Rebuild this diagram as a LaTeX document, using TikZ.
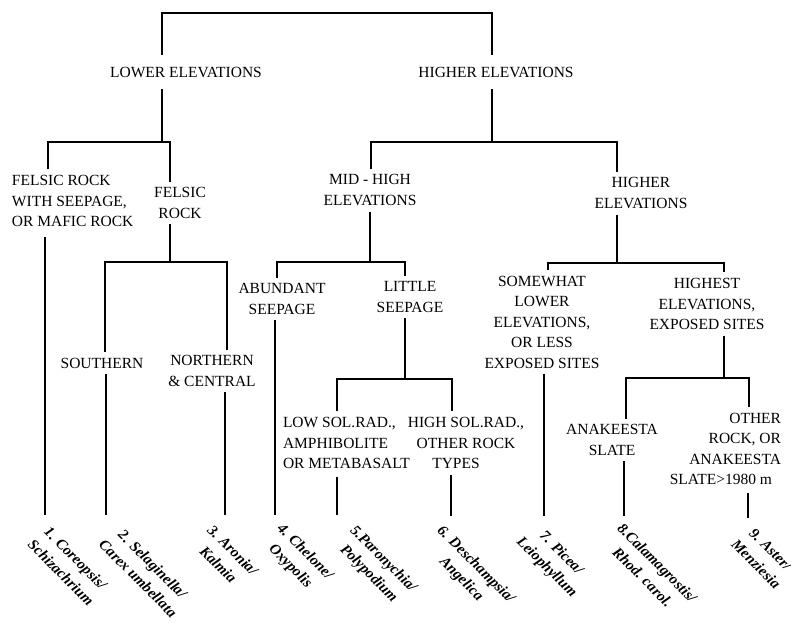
\documentclass[tikz,border=0pt]{standalone}
\usepackage{fontspec}
\setmainfont{Liberation Serif}
\begin{document}
\begin{tikzpicture}[x=1pt,y=-1pt,line width=1.1pt,
  lab/.style={font=\fontsize{15.5}{20.5}\selectfont,inner sep=0pt,outer sep=6pt,align=center},
  sp/.style={font=\fontsize{15}{20.5}\selectfont\bfseries\itshape,rotate=-45,inner sep=0pt,align=center,anchor=north west}]
\useasboundingbox (0,0) rectangle (791,622);
% text nodes
\node[lab] (lower) at (186,72) {LOWER ELEVATIONS};
\node[lab] (higher) at (496,72) {HIGHER ELEVATIONS};
\node[lab,align=left,anchor=west,outer sep=0pt] (felsicseepin) at (12,201) {FELSIC ROCK\\WITH SEEPAGE,\\OR MAFIC ROCK};
\node[lab] (felsic) at (180,203) {FELSIC\\ROCK};
\node[lab] (midhigh) at (370,190) {MID - HIGH\\ELEVATIONS};
\node[lab] (higherelev) at (641,193) {HIGHER\\ELEVATIONS};
\node[lab] (southern) at (102,363) {SOUTHERN};
\node[lab] (northern) at (212,371) {NORTHERN\\\& CENTRAL};
\node[lab] (abundant) at (282,299) {ABUNDANT\\SEEPAGE};
\node[lab] (little) at (410,297) {LITTLE\\SEEPAGE};
\node[lab] (somewhat) at (542,322) {SOMEWHAT\\LOWER\\ELEVATIONS,\\OR LESS\\EXPOSED SITES};
\node[lab] (highest) at (707,304) {HIGHEST\\ELEVATIONS,\\EXPOSED SITES};
\node[lab,align=left,anchor=west,outer sep=0pt] (lowsol) at (283,443) {LOW SOL.RAD.,\\AMPHIBOLITE\\OR METABASALT};
\node[lab] (highsol) at (466,443) {HIGH SOL.RAD.,\\OTHER ROCK\\TYPES\hspace*{20pt}};
\node[lab] (anakeesta) at (612,440) {ANAKEESTA\\SLATE};
\node[lab,align=right,anchor=east,outer sep=0pt] (other) at (781,449) {OTHER\\ROCK, OR\\ANAKEESTA\\SLATE>1980 m\hspace*{9pt}};
% junctions
\coordinate (tL) at (162,13); \coordinate (tR) at (492,13);
\coordinate (bLc) at (162,142); \coordinate (bL1) at (48,142); \coordinate (bL2) at (170,142);
\coordinate (bRc) at (492,142); \coordinate (bR1) at (371,142); \coordinate (bR2) at (617,142);
\coordinate (fc) at (170,262); \coordinate (fL) at (105,262); \coordinate (fR) at (227,262);
\coordinate (mc) at (370,262); \coordinate (mL) at (277,262); \coordinate (mR) at (405,262);
\coordinate (lc) at (405,379); \coordinate (lL) at (337,379); \coordinate (lR) at (452,379);
\coordinate (hc) at (617,263); \coordinate (hL) at (548,263); \coordinate (hR) at (724,263);
\coordinate (ac) at (724,378); \coordinate (aL) at (626,378); \coordinate (aR) at (749,378);
\coordinate (e1) at (45,515); \coordinate (e2) at (106,515); \coordinate (e3) at (225,515);
\coordinate (e4) at (275,515); \coordinate (e5) at (337,515); \coordinate (e6) at (451,516);
\coordinate (e7) at (544,516); \coordinate (e8) at (624,516); \coordinate (e9) at (748,518);
% connectors
\draw ([yshift=6pt]lower.north -| tL) -- (tL) -- (tR) -- ([yshift=6pt]higher.north -| tR);
\draw ([yshift=-6pt]lower.south -| bLc) -- (bLc);
\draw ([yshift=6pt]felsicseepin.north -| bL1) |- (bL2) -- (felsic.north -| bL2);
\draw ([yshift=-6pt]higher.south -| bRc) -- (bRc);
\draw (midhigh.north -| bR1) |- (bR2) -- (higherelev.north -| bR2);
\draw ([yshift=-10pt]felsicseepin.south -| e1) -- (e1);
\draw (felsic.south -| fc) -- (fc);
\draw (southern.north -| fL) |- (fR) -- (northern.north -| fR);
\draw (southern.south -| e2) -- (e2);
\draw (northern.south -| e3) -- (e3);
\draw (midhigh.south -| mc) -- (mc);
\draw (abundant.north -| mL) |- (mR) -- (little.north -| mR);
\draw (abundant.south -| e4) -- (e4);
\draw (little.south -| lc) -- (lc);
\draw ([yshift=6pt]lowsol.north -| lL) |- (lR) -- (highsol.north -| lR);
\draw ([yshift=-8pt]lowsol.south -| e5) -- (e5);
\draw (highsol.south -| e6) -- (e6);
\draw (higherelev.south -| hc) -- (hc);
\draw (somewhat.north -| hL) |- (hR) -- (highest.north -| hR);
\draw (somewhat.south -| e7) -- (e7);
\draw (highest.south -| ac) -- (ac);
\draw (anakeesta.north -| aL) |- (aR) -- ([yshift=6pt]other.north -| aR);
\draw (anakeesta.south -| e8) -- (e8);
\draw ([yshift=-8pt]other.south -| e9) -- (e9);
% species labels
\node[sp] (s1) at (49,523) {1. Coreopsis/\\Schizachrium};
\node[sp] (s2) at (120,523) {2. Selaginella/\\Carex umbellata};
\node[sp] (s3) at (214,523) {3. Aronia/\\Kalmia};
\node[sp] (s4) at (284,521) {4. Chelone/\\Oxypolis};
\node[sp] (s5) at (357,523) {5.Paronychia/\\Polypodium};
\node[sp] (s6) at (444,523) {6. Deschampsia/\\Angelica};
\node[sp] (s7) at (538,520) {7. Picea/\\Leiophyllum};
\node[sp] (s8) at (624,521) {8.Calamagrostis/\\Rhod. carol.};
\node[sp] (s9) at (752,523) {9. Aster/\\Menziesia};
\end{tikzpicture}
\end{document}
